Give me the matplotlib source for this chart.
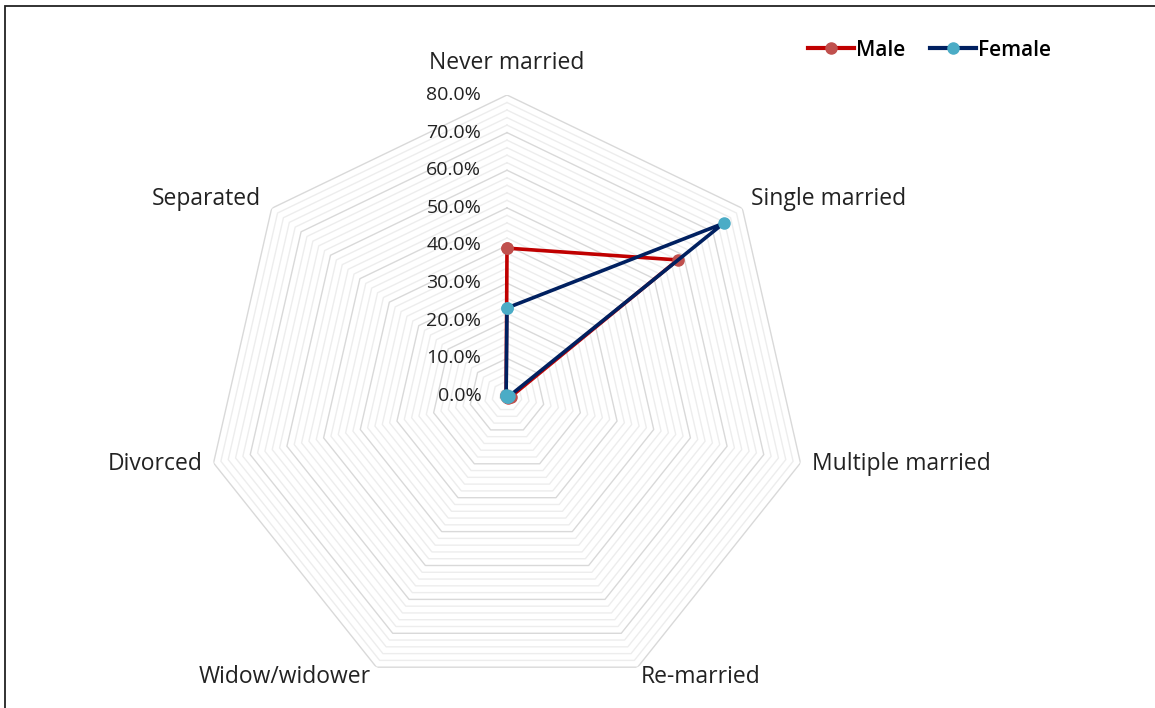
import numpy as np
import matplotlib.pyplot as plt
from matplotlib.lines import Line2D
from matplotlib.patches import Rectangle

plt.rcParams['font.family'] = ['Open Sans', 'DejaVu Sans']

categories = ['Never married', 'Single married', 'Multiple married', 'Re-married',
              'Widow/widower', 'Divorced', 'Separated']
male = [39.3, 58.0, 1.0, 0.6, 0.3, 0.3, 0.3]
female = [23.4, 73.6, 0.5, 0.4, 0.3, 0.3, 0.3]
rticks = [0, 10, 20, 30, 40, 50, 60, 70, 80]

n = len(categories)
theta = np.arange(n) * 2 * np.pi / n
theta_c = np.append(theta, theta[0])

W, H = 1155, 708
fig = plt.figure(figsize=(W / 100, H / 100), dpi=100)
cx, cy, R = 507, 396, 301
ax = fig.add_axes([(cx - R) / W, (H - cy - R) / H, 2 * R / W, 2 * R / H], projection='polar')
ax.set_theta_zero_location('N')
ax.set_theta_direction(-1)
ax.set_ylim(0, 80)
ax.grid(False)
ax.spines['polar'].set_visible(False)
ax.set_xticks([])
ax.set_yticks([])
ax.patch.set_alpha(0)

# heptagon grid: minor every 2%, major every 10%
for r in np.arange(2, 81, 2):
    major = r % 10 == 0
    ax.plot(theta_c, [r] * (n + 1), color='#D9D9D9' if major else '#EDEDED',
            lw=1.0, zorder=1 if major else 0.5)

ax.plot(theta_c, male + male[:1], color='#C00000', lw=2.6, zorder=3,
        marker='o', ms=8, mfc='#C0504D', mec='#C0504D')
ax.plot(theta_c, female + female[:1], color='#002060', lw=2.6, zorder=4,
        marker='o', ms=8, mfc='#4BACC6', mec='#4BACC6')

for v in rticks:
    ax.annotate(f'{v:.1f}%', (0, v), xytext=(-18.5, 0), textcoords='offset points',
                ha='right', va='center', fontsize=14, color='#222222')

# category labels (offsets in points, alignment by side)
offsets = [(0, 23, 'center'), (6, 6.5, 'left'), (8, -1, 'left'), (2, -7, 'left'),
           (-4, -7, 'right'), (-8, -1, 'right'), (-8, 6.5, 'right')]
for t, lab, (dx, dy, ha) in zip(theta, categories, offsets):
    ax.annotate(lab, (t, 80), xytext=(dx, dy), textcoords='offset points',
                ha=ha, va='center', fontsize=16.5, color='#222222')

handles = [Line2D([], [], color='#C00000', lw=3, marker='o', ms=8,
                  mfc='#C0504D', mec='#C0504D'),
           Line2D([], [], color='#002060', lw=3, marker='o', ms=8,
                  mfc='#4BACC6', mec='#4BACC6')]
fig.legend(handles, ['Male', 'Female'], loc='center right',
           bbox_to_anchor=(1070 / W, 1 - 50 / H), ncol=2, frameon=False,
           handlelength=2.2, handletextpad=0.1, columnspacing=1.2,
           prop={'size': 15, 'weight': 'semibold'})

fig.add_artist(Rectangle((5 / W, -0.1), 1.2, 1 - 6 / H + 0.1, transform=fig.transFigure,
                         fill=False, edgecolor='#222222', lw=1.3))

fig.savefig('out.png', dpi=100)
